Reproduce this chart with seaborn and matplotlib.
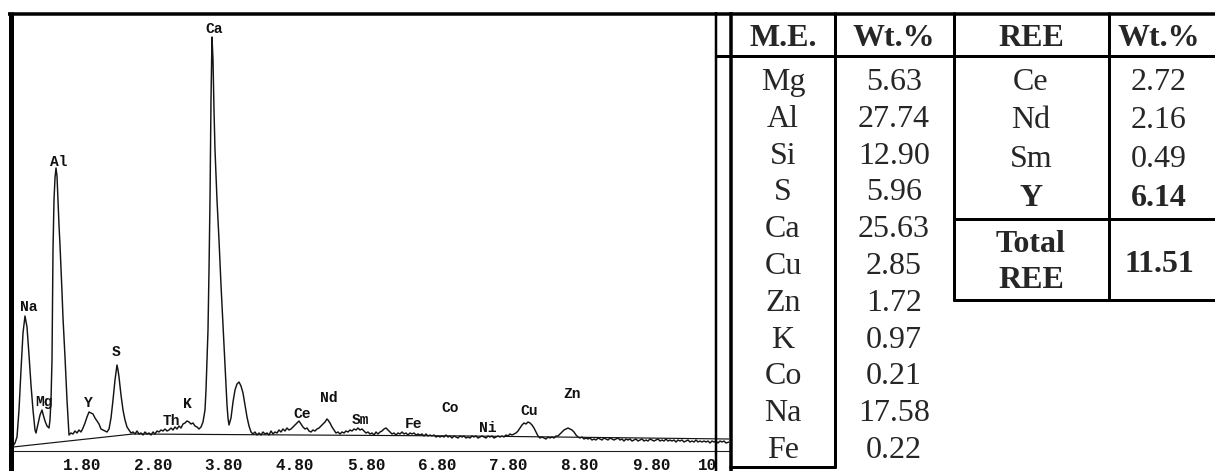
import numpy as np
import pandas as pd
import matplotlib
matplotlib.use("Agg")
import matplotlib.pyplot as plt
import seaborn as sns
from matplotlib.transforms import Bbox, TransformedBbox

# ---- EDX spectrum, read channel by channel (counts in arbitrary units) ----
# Na, Mg, Al region
low_channel = [0, 2, 4, 6, 8, 10, 12, 14, 16, 18, 20, 22, 23, 25, 27, 29, 30, 32, 34, 36,
               37, 38, 39, 40, 41, 42, 43, 44, 45, 46, 47, 48, 49, 50, 52, 54, 56, 58, 60, 62,
               64, 66, 68]
low_counts = [5, 8, 14, 41, 81, 118, 135, 124, 96, 66, 41, 21, 18, 27, 36, 41, 37, 30, 25, 23,
              31, 51, 91, 201, 251, 273, 283, 275, 251, 226, 206, 183, 159, 133, 94, 51, 16, 18, 17, 20,
              18, 21, 19]
# Y, S, Th, K region
mid_channel = list(range(70, 105, 2)) + [105, 106] + list(range(108, 191, 2))
mid_counts = [23, 28, 34, 39, 38, 37, 33, 30, 27, 22, 21, 20, 19, 22, 33, 51, 71, 86,
              81, 74,
              56, 41, 31, 24, 21,
              18, 19, 17, 20, 17, 18, 16, 19, 17, 18, 16, 19, 17, 20, 19, 21, 20, 22, 20, 21,
              23, 21, 24, 22, 25, 23, 27, 28, 30, 29, 27, 28, 25, 24, 22, 24, 29]
# Ca K-alpha / K-beta
ca_channel = [192, 193, 194, 195, 196, 197, 198, 199, 200, 201, 202, 204, 206, 208, 210, 211,
              213, 214, 215, 216, 218, 220, 222, 224, 226, 228, 230, 232, 234, 236, 238, 240]
ca_counts = [41, 61, 91, 121, 181, 251, 351, 414, 391, 341, 301, 251, 211, 166, 126, 106,
             66, 46, 33, 26, 33, 49, 61, 67, 69, 65, 58, 46, 34, 25, 19, 17]
# Ce, Nd, Sm region
ree_channel = list(range(242, 313, 2)) + [314, 315] + list(range(317, 400, 2))
ree_counts = [19, 16, 18, 16, 19, 17, 18, 16, 20, 17, 19, 18, 21, 19, 22, 20, 23, 21, 22, 24,
              26, 28, 30, 27, 24, 22, 23, 20, 19, 21, 20, 22, 23, 25, 27, 29,
              32, 31,
              28, 24, 21, 18, 19, 17, 19, 18, 20, 19, 21, 20, 22, 21, 23, 21, 22, 20, 18, 19,
              17, 18, 16, 19, 17, 19, 20, 22, 23, 21, 19, 17, 18, 16, 18, 17, 19, 17, 18, 16,
              18, 17]
# Fe, Co, Ni region
fe_channel = list(range(401, 504, 2))
fe_counts = [18, 16, 17, 16, 17, 15, 17, 15, 16, 15, 16, 14, 15, 14, 15, 14, 16, 14, 15, 13,
             15, 14, 13, 15, 14, 15, 13, 14, 13, 15, 14, 15, 13, 14, 15, 14, 13, 15, 14, 15,
             13, 14, 15, 14, 15, 14, 16, 15, 17, 16, 17, 18]
# Cu, Zn
cu_channel = list(range(505, 568, 2))
cu_counts = [20, 23, 26, 28, 27, 29, 28, 26, 23, 19, 15, 13, 14, 13, 12, 14, 13, 14, 13, 15,
             15, 17, 19, 21, 22, 23, 22, 21, 19, 16, 14, 13]
# high-energy tail
tail_channel = list(range(569, 714, 2)) + [716]
tail_counts = [14, 12, 13, 12, 13, 11, 12, 11, 13, 12,
               11, 13, 12, 11, 13, 12, 11, 12, 13, 11,
               12, 10, 12, 11, 12, 10, 11, 12, 10, 11,
               12, 10, 11, 10, 12, 11, 10, 11, 12, 10,
               11, 10, 12, 10, 11, 10, 11, 9, 11, 10,
               11, 9, 10, 11, 9, 10, 9, 11, 9, 10,
               9, 10, 9, 10, 8, 10, 9, 10, 8, 10,
               9, 10, 8, 9]

# background fit under the spectrum
bg_channel = [0, 120, 457, 716]
bg_counts = [4, 17, 15, 12]

# detector energy calibration (keV)
cal_offset = 0.8346
cal_gain = 0.014053
n_channels = 716

# element labels on the spectrum
peak_names = ["Na", "Mg", "Al", "Y", "S", "Th", "K", "Ca", "Ce", "Nd", "Sm", "Fe", "Co",
              "Ni", "Cu", "Zn"]
peak_channel = [16, 31, 46, 75, 103, 158, 174, 201, 289, 316, 347, 400, 437, 475, 516, 559]
peak_height = [144, 49, 289, 48, 99, 30, 47, 422, 37, 53, 31, 27, 43, 23, 40, 57]

tick_energies = [1.80, 2.80, 3.80, 4.80, 5.80, 6.80, 7.80, 8.80, 9.80, 10.80]

# ---- composition table ----
major_elements = ["Mg", "Al", "Si", "S", "Ca", "Cu", "Zn", "K", "Co", "Na", "Fe"]
major_wt = [5.63, 27.74, 12.90, 5.96, 25.63, 2.85, 1.72, 0.97, 0.21, 17.58, 0.22]
ree_elements = ["Ce", "Nd", "Sm", "Y"]
ree_wt = [2.72, 2.16, 0.49, 6.14]
ree_total = 11.51

# ---------------------------------------------------------------------------
sns.set_style("white")
W, H = 1215, 471
fig = plt.figure(figsize=(W / 100, H / 100), dpi=100)


def px_rect(x0, y0, x1, y1):
    return [x0 / W, 1 - y1 / H, (x1 - x0) / W, (y1 - y0) / H]


channel = np.array(low_channel + mid_channel + ca_channel + ree_channel
                   + fe_channel + cu_channel + tail_channel)
counts = np.array(low_counts + mid_counts + ca_counts + ree_counts
                  + fe_counts + cu_counts + tail_counts)
spec = pd.DataFrame({"energy": cal_offset + cal_gain * channel, "counts": counts})
bg = pd.DataFrame({"energy": cal_offset + cal_gain * np.array(bg_channel),
                   "counts": bg_counts})

ax = fig.add_axes(px_rect(13, 15, 729, 451))
ax.set_facecolor("white")
sns.lineplot(data=spec, x="energy", y="counts", ax=ax, color="#141414", lw=1.05,
             estimator=None, sort=False, legend=False)
sns.lineplot(data=bg, x="energy", y="counts", ax=ax, color="#141414", lw=0.85,
             estimator=None, sort=False, legend=False)
ax.set_xlim(cal_offset, cal_offset + cal_gain * n_channels)
ax.set_ylim(0, 436)
for side in ["left", "top", "right"]:
    ax.spines[side].set_visible(False)
ax.spines["bottom"].set_linewidth(0.8)
ax.spines["bottom"].set_color("#222222")
ax.set_yticks([])
ax.set_xticks(tick_energies)
ax.set_xticklabels([f"{t:.2f}" for t in tick_energies], fontfamily="Liberation Mono",
                   fontweight="bold", fontsize=11.5)
ax.tick_params(axis="x", direction="inout", length=6, width=0.9, pad=2, colors="#111111")
ax.set_xlabel("")
ax.set_ylabel("")

# tick labels stop at the frame edge
clip = TransformedBbox(Bbox([[0, 0], [715 / W, 1]]), fig.transFigure)
for lab in ax.get_xticklabels():
    lab.set_clip_box(clip)
    lab.set_clip_on(True)

for name, ch, h in zip(peak_names, peak_channel, peak_height):
    ax.text(cal_offset + cal_gain * ch, h, name, ha="center", va="center",
            fontfamily="Liberation Mono", fontweight="bold", fontsize=10.5, color="#111111")

# ---- frame and table drawn in pixel space ----
ov = fig.add_axes([0, 0, 1, 1])
ov.set_xlim(0, W)
ov.set_ylim(H, 0)
ov.axis("off")
ov.patch.set_visible(False)


def rule(x0, y0, x1, y1, px):
    ov.plot([x0, x1], [y0, y1], color="black", lw=px * 0.72, solid_capstyle="butt")


rule(8, 14, W, 14, 3.5)          # top border
rule(10.5, 12, 10.5, H, 5)       # left border of spectrum
rule(716, 12, 716, H, 2.5)       # right border of spectrum
rule(731, 12, 731, H, 3.5)       # table left edge
rule(715, 55.5, W, 55.5, 3)      # header rule
rule(834.5, 12, 834.5, 468, 3)
rule(729, 466.5, 836, 466.5, 3)  # bottom of major-element block
rule(954, 12, 954, 301, 3)
rule(1108.5, 12, 1108.5, 301, 3)
rule(953, 219, W, 219, 3)
rule(953, 300, W, 300, 3)

serif = "Liberation Serif"
fs = 23
col_me, col_wt, col_ree, col_wt2 = 783, 894, 1031, 1159

for x, lab in zip([col_me, col_wt, col_ree, col_wt2], ["M.E.", "Wt.%", "REE", "Wt.%"]):
    ov.text(x, 46, lab, ha="center", va="baseline", fontfamily=serif, fontsize=fs,
            fontweight="bold")

for i, (el, wt) in enumerate(zip(major_elements, major_wt)):
    yb = 90 + 36.8 * i
    ov.text(col_me, yb, el, ha="center", va="baseline", fontfamily=serif, fontsize=fs)
    ov.text(col_wt, yb, f"{wt:.2f}", ha="center", va="baseline", fontfamily=serif, fontsize=fs)

for i, (el, wt) in enumerate(zip(ree_elements, ree_wt)):
    yb = 90 + 38.5 * i
    weight = "bold" if el == "Y" else "normal"
    ov.text(col_ree, yb, el, ha="center", va="baseline", fontfamily=serif, fontsize=fs,
            fontweight=weight)
    ov.text(col_wt2, yb, f"{wt:.2f}", ha="center", va="baseline", fontfamily=serif,
            fontsize=fs, fontweight=weight)

ov.text(col_ree, 252, "Total", ha="center", va="baseline", fontfamily=serif, fontsize=fs,
        fontweight="bold")
ov.text(col_ree, 288, "REE", ha="center", va="baseline", fontfamily=serif, fontsize=fs,
        fontweight="bold")
ov.text(col_wt2, 272, f"{ree_total:.2f}", ha="center", va="baseline", fontfamily=serif,
        fontsize=fs, fontweight="bold")

fig.savefig("out.png", dpi=100, facecolor="white")
